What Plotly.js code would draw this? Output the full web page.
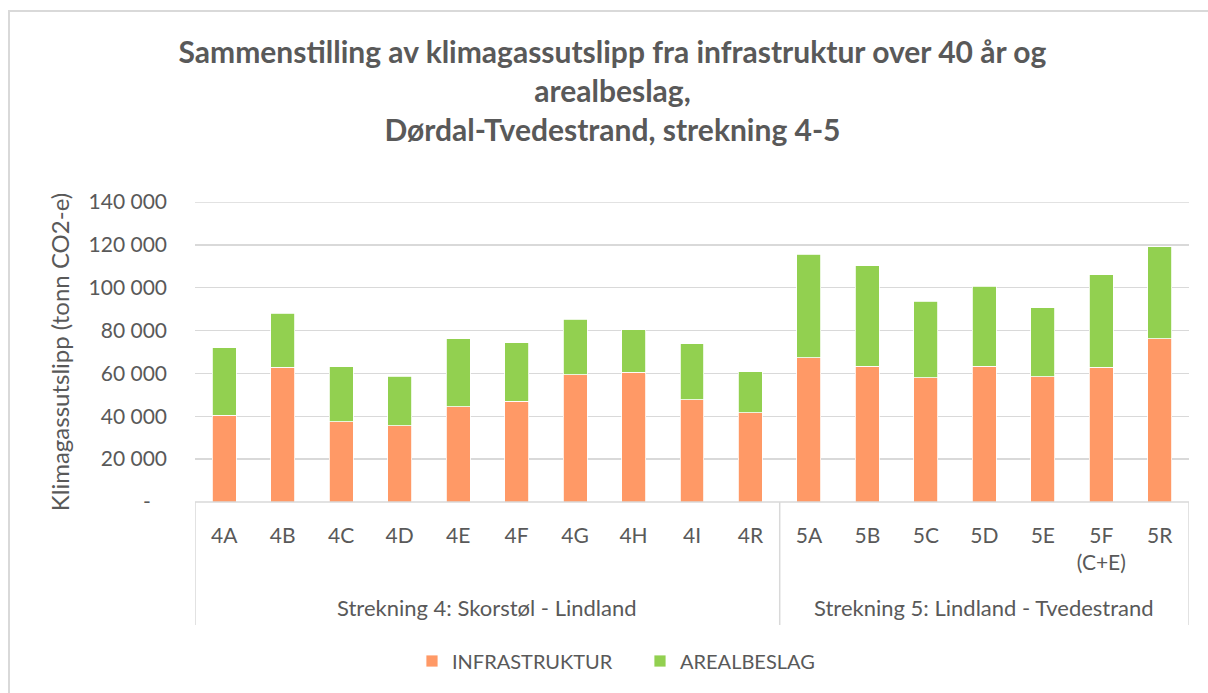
<!DOCTYPE html>
<html>
<head>
<meta charset="utf-8">
<script src="https://cdn.plot.ly/plotly-3.0.1.min.js"></script>
<style>
html,body{margin:0;padding:0;background:#fff;}
#chart{position:absolute;left:0;top:0;width:1208px;height:693px;}
#frame{position:absolute;left:8px;top:10px;width:1220px;height:700px;border:2px solid #d9d9d9;pointer-events:none;box-sizing:border-box;}
</style>
</head>
<body>
<div id="chart"></div>
<div id="frame"></div>
<script>
// Data
const categories = ["4A","4B","4C","4D","4E","4F","4G","4H","4I","4R","5A","5B","5C","5D","5E","5F","5R"];
const tickLabels = ["4A","4B","4C","4D","4E","4F","4G","4H","4I","4R","5A","5B","5C","5D","5E","5F<br>(C+E)","5R"];
const infrastruktur = [40500, 63000, 37500, 35500, 44500, 47000, 59500, 60600, 47800, 41700, 67300, 63300, 58000, 63400, 58500, 62800, 76100];
const totals =        [72000, 88000, 63100, 58800, 76100, 74400, 85300, 80300, 73800, 60800, 115700, 110200, 93800, 100600, 90700, 106000, 119200];
const arealbeslag = totals.map((t, i) => t - infrastruktur[i]);
const groups = [
  {label: "Strekning 4: Skorstøl - Lindland", from: 0, to: 9},
  {label: "Strekning 5: Lindland - Tvedestrand", from: 10, to: 16}
];
const yTicks = [0, 20000, 40000, 60000, 80000, 100000, 120000, 140000];
const yTickText = ["-\u00a0\u00a0\u00a0", "20 000", "40 000", "60 000", "80 000", "100 000", "120 000", "140 000"];
const yMax = 140000;

const textColor = "#595959";
const gridColor = "#d9d9d9";
const font = "Lato, 'Open Sans', sans-serif";

const xIdx = categories.map((c, i) => i);

const traces = [
  {type: "bar", name: "INFRASTRUKTUR", x: xIdx, y: infrastruktur,
   marker: {color: "#ff9966", line: {color: "#ffffff", width: 0.8}}},
  {type: "bar", name: "AREALBESLAG", x: xIdx, y: arealbeslag,
   marker: {color: "#92d050", line: {color: "#ffffff", width: 0.8}}}
];

const shapes = [];
const annotations = [];
// top gridline at range edge
shapes.push({type: "line", xref: "paper", yref: "y", x0: 0, x1: 1, y0: yMax, y1: yMax,
  line: {color: gridColor, width: 1.5}, layer: "below"});
// axis base line
shapes.push({type: "line", xref: "x", yref: "paper", x0: -0.5, x1: categories.length - 0.5, y0: 0, y1: 0,
  line: {color: gridColor, width: 1.5}});
// group dividers
const dividerX = [-0.5];
groups.forEach(g => dividerX.push(g.to + 0.5));
dividerX.forEach(xv => shapes.push({type: "line", xref: "x", yref: "paper", x0: xv, x1: xv, y0: 0, y1: -0.41,
  line: {color: gridColor, width: 1.5}}));
groups.forEach(g => annotations.push({xref: "x", yref: "paper", x: (g.from + g.to) / 2, y: -0.353,
  text: g.label, showarrow: false, yanchor: "middle", font: {family: font, size: 22, color: textColor}}));

const layout = {
  width: 1208, height: 693,
  margin: {l: 195, r: 19, t: 202, b: 191},
  paper_bgcolor: "#ffffff", plot_bgcolor: "#ffffff",
  barmode: "stack", bargap: 0.59,
  font: {family: font, color: textColor},
  title: {text: "<b>Sammenstilling av klimagassutslipp fra infrastruktur over 40 år og<br>arealbeslag,<br>Dørdal-Tvedestrand, strekning 4-5</b>",
    x: 0.507, xanchor: "center", y: 0.9095, yanchor: "top",
    font: {family: font, size: 30, color: textColor}},
  xaxis: {type: "linear", range: [-0.5, categories.length - 0.5], tickvals: xIdx, ticktext: tickLabels,
    showgrid: false, zeroline: false, showline: false, ticks: "",
    ticklabelstandoff: 19, tickfont: {family: font, size: 21, color: textColor}},
  yaxis: {range: [0, yMax], tickvals: yTicks, ticktext: yTickText,
    showgrid: true, gridcolor: gridColor, gridwidth: 1.5, zeroline: false, showline: false, ticks: "",
    ticklabelstandoff: 27, tickfont: {family: font, size: 21, color: textColor},
    title: {text: "Klimagassutslipp (tonn CO2-e)", standoff: 12, font: {family: font, size: 24, color: textColor}}},
  legend: {orientation: "h", x: 0.2183, xanchor: "left", y: -0.53, yanchor: "middle",
    font: {family: font, size: 20, color: textColor}, traceorder: "normal", itemwidth: 30,
    entrywidth: 183, entrywidthmode: "pixels"},
  showlegend: true,
  shapes: shapes,
  annotations: annotations
};

Plotly.newPlot("chart", traces, layout, {displayModeBar: false, staticPlot: true});
</script>
</body>
</html>
